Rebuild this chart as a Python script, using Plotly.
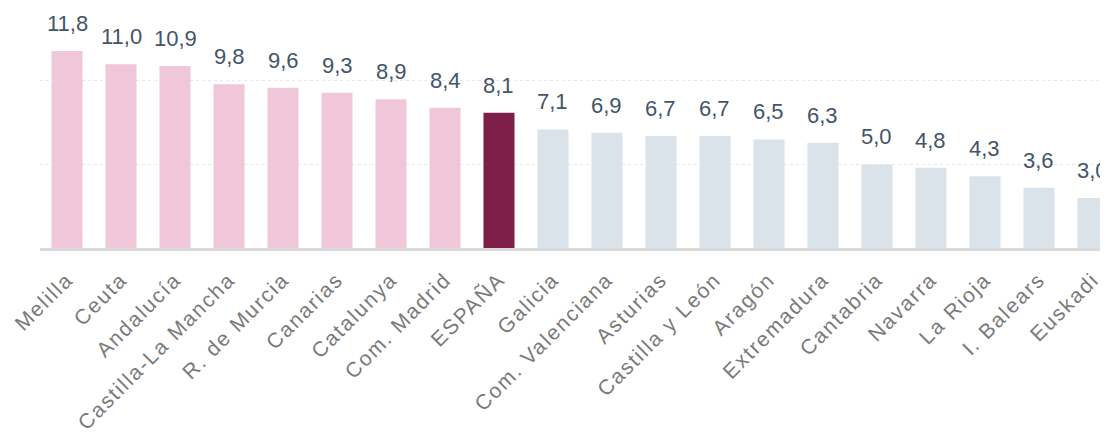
import plotly.graph_objects as go

regions = ["Melilla", "Ceuta", "Andalucía", "Castilla-La Mancha", "R. de Murcia", "Canarias",
           "Catalunya", "Com. Madrid", "ESPAÑA", "Galicia", "Com. Valenciana", "Asturias",
           "Castilla y León", "Aragón", "Extremadura", "Cantabria", "Navarra", "La Rioja",
           "I. Balears", "Euskadi"]
values = [11.8, 11.0, 10.9, 9.8, 9.6, 9.3, 8.9, 8.4, 8.1, 7.1, 6.9, 6.7, 6.7, 6.5, 6.3,
          5.0, 4.8, 4.3, 3.6, 3.0]
labels = ["11,8", "11,0", "10,9", "9,8", "9,6", "9,3", "8,9", "8,4", "8,1", "7,1", "6,9",
          "6,7", "6,7", "6,5", "6,3", "5,0", "4,8", "4,3", "3,6", "3,0"]

PINK, SPAIN, GREY = "#f0c6d9", "#7d1f48", "#dbe3ea"
spain_val = values[regions.index("ESPAÑA")]
colors = [SPAIN if r == "ESPAÑA" else (PINK if v > spain_val else GREY)
          for r, v in zip(regions, values)]

x = list(range(len(regions)))
fig = go.Figure(go.Bar(x=x, y=values, marker_color=colors, width=0.575,
                       marker_line_width=0, hoverinfo="skip"))

for xi, v, t in zip(x, values, labels):
    fig.add_annotation(x=xi, y=v, text=t, showarrow=False, yanchor="bottom",
                       yshift=13, font=dict(family="Liberation Sans, Arial", size=22,
                                            color="#44546a"))

ticktext = ['<span style="letter-spacing:1.8px">%s</span>' % r for r in regions]

fig.update_layout(
    width=1100, height=428,
    margin=dict(l=32, r=0, t=0, b=188, autoexpand=False),
    paper_bgcolor="white", plot_bgcolor="white",
    showlegend=False, bargap=0.4,
    xaxis=dict(range=[-0.5, 19.278], tickmode="array", tickvals=x, ticktext=ticktext,
               tickangle=-45, showline=True, linecolor="#d9d9d9", linewidth=3,
               showgrid=False, ticks="", ticklabelstandoff=8, automargin=False,
               tickfont=dict(family="Liberation Sans, Arial", size=21, color="#7a7a7a")),
    yaxis=dict(range=[0, 14.37], showticklabels=False, showline=False, zeroline=False,
               tickvals=[5, 10], showgrid=True, gridcolor="#e8e8e8", griddash="dot",
               gridwidth=1, automargin=False),
)

fig.write_html("out.html")
